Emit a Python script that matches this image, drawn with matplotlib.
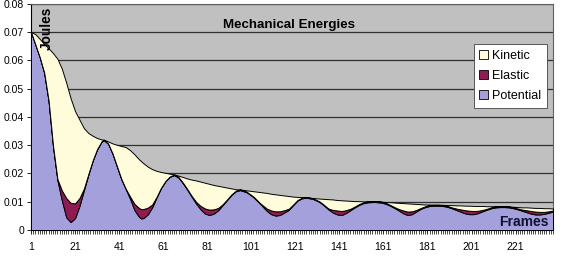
import matplotlib
matplotlib.use("Agg")
import matplotlib.pyplot as plt
from matplotlib.ticker import MultipleLocator, FixedLocator
from matplotlib.patches import Patch

plt.rcParams['font.family'] = ['Liberation Sans', 'DejaVu Sans']

frames = [1, 3, 5, 7, 9, 11, 13, 15, 17, 19, 21, 23, 25, 27, 29, 31, 33, 34,
          36, 38, 40, 42, 44, 46, 48, 50, 51, 52, 54, 56, 58, 60, 62, 64, 66,
          68, 70, 72, 74, 76, 78, 80, 82, 84, 86, 88, 90, 92, 94, 96,
          99, 102, 105, 108, 110, 112, 114, 116, 118, 120, 122, 124, 126,
          129, 132, 134, 136, 138, 140, 142, 144, 146, 148, 150, 152, 154, 157,
          160, 162, 164, 166, 168, 170, 172, 174, 176, 178, 180, 182, 184, 186,
          188, 190, 192, 194, 196, 198, 200, 202, 204, 206, 208, 210, 212, 214, 216,
          218, 220, 222, 224, 226, 228, 230, 232, 234, 236, 238]

potential = [.0700, .0655, .0610, .0555, .0455, .0295, .0176, .0105, .0045, .0028, .0042, .0085, .0140, .0195, .0245, .0285, .0312, .0318,
             .0305, .0270, .0225, .0180, .0145, .0110, .0070, .0047, .0041, .0042, .0055, .0080, .0115, .0148, .0172, .0188, .0194,
             .0185, .0165, .0142, .0117, .0093, .0073, .0058, .0053, .0058, .0070, .0088, .0106, .0124, .0137, .0141,
             .0133, .0116, .0093, .0068, .0056, .0051, .0053, .0062, .0071, .0088, .0104, .0112, .0114,
             .0110, .0099, .0087, .0073, .0062, .0055, .0053, .0060, .0070, .0080, .0089, .0095, .0098, .0099,
             .0097, .0093, .0086, .0078, .0069, .0059, .0053, .0056, .0066, .0075, .0081, .0085, .0086, .0086,
             .0085, .0082, .0077, .0071, .0065, .0059, .0056, .0056, .0060, .0066, .0072, .0077, .0080, .0081, .0081,
             .0080, .0077, .0073, .0068, .0063, .0058, .0055, .0055, .0057, .0061, .0065]

elastic = [0, 0, 0, .0001, .0002, .0003, .0004, .0035, .0068, .0068, .0052, .0028, .0006, .0002, .0001, .0001, .0001, .0001,
           .0001, .0001, .0001, .0001, .0001, .0008, .0022, .0031, .0033, .0032, .0024, .0010, .0002, .0001, .0001, .0001, .0002,
           .0002, .0002, .0002, .0003, .0006, .0012, .0018, .0019, .0015, .0008, .0003, .0002, .0002, .0002, .0002,
           .0002, .0002, .0002, .0008, .0013, .0015, .0013, .0008, .0004, .0002, .0002, .0002, .0002,
           .0002, .0002, .0002, .0003, .0009, .0014, .0014, .0010, .0005, .0003, .0003, .0003, .0003, .0003,
           .0003, .0003, .0003, .0003, .0005, .0010, .0012, .0010, .0005, .0003, .0003, .0003, .0003, .0003,
           .0003, .0003, .0003, .0005, .0008, .0011, .0012, .0011, .0008, .0005, .0003, .0003, .0003, .0003, .0003,
           .0003, .0003, .0003, .0004, .0007, .0009, .0010, .0009, .0007, .0005, .0004]

kinetic = [0, .0037, .0065, .0101, .0185, .0327, .0425, .0430, .0407, .0369, .0326, .0277, .0214, .0146, .0087, .0039, .0007, 0,
           .0007, .0035, .0075, .0116, .0147, .0164, .0175, .0172, .0169, .0162, .0145, .0125, .0092, .0056, .0029, .0010, 0,
           .0005, .0020, .0038, .0058, .0076, .0086, .0091, .0091, .0086, .0078, .0062, .0042, .0021, .0005, 0,
           .0005, .0019, .0039, .0055, .0059, .0060, .0058, .0052, .0045, .0028, .0011, .0002, 0,
           .0001, .0010, .0021, .0033, .0037, .0037, .0038, .0034, .0028, .0019, .0010, .0003, 0, 0,
           0, .0003, .0009, .0016, .0022, .0026, .0029, .0027, .0021, .0013, .0006, .0002, 0, 0,
           .0001, .0003, .0008, .0011, .0014, .0016, .0018, .0018, .0017, .0014, .0009, .0004, .0001, 0, 0,
           0, .0002, .0005, .0008, .0010, .0012, .0013, .0014, .0013, .0011, .0007]

series_names = ["Potential", "Elastic", "Kinetic"]
x_tick_labels = [1, 21, 41, 61, 81, 101, 121, 141, 161, 181, 201, 221]
y_ticks = [0, 0.01, 0.02, 0.03, 0.04, 0.05, 0.06, 0.07, 0.08]

colors = ['#A4A0DC', '#8E1B52', '#FFFCDC']

fig = plt.figure(figsize=(5.68, 2.60), dpi=100)
ax = fig.add_axes([31/568, 30/260, 522/568, 226.4/260])
ax.set_facecolor('#C0C0C0')

ax.stackplot(frames, potential, elastic, kinetic, colors=colors,
             edgecolor='black', linewidth=0.7, zorder=3)

ax.set_xlim(1, 238)
ax.set_ylim(0, 0.08)
ax.set_yticks(y_ticks)
ax.set_yticklabels(['0' if v == 0 else f'{v:.2f}' for v in y_ticks], fontsize=7.5)
ax.yaxis.grid(True, color='#303030', linewidth=0.9, zorder=1)
ax.set_axisbelow(True)

ax.xaxis.set_major_locator(FixedLocator(x_tick_labels))
ax.set_xticklabels([str(v) for v in x_tick_labels], fontsize=7.5)
ax.xaxis.set_minor_locator(MultipleLocator(1))
ax.tick_params(axis='x', which='major', length=3, width=0.6, pad=6)
ax.tick_params(axis='x', which='minor', length=3, width=0.5)
ax.tick_params(axis='y', length=3, width=0.6, pad=2)

for s in ['left', 'bottom']:
    ax.spines[s].set_color('black')
    ax.spines[s].set_linewidth(0.8)
for s in ['top', 'right']:
    ax.spines[s].set_color('#606060')
    ax.spines[s].set_linewidth(0.8)

ax.text(0.031, 0.985, 'Joules', transform=ax.transAxes, rotation=90,
        ha='center', va='top', fontsize=9.8, fontweight='bold', zorder=5)
ax.text(0.495, 0.905, 'Mechanical Energies', transform=ax.transAxes,
        ha='center', va='center', fontsize=9.6, fontweight='bold', zorder=5)
ax.text(0.944, 0.006, 'Frames', transform=ax.transAxes,
        ha='center', va='bottom', fontsize=10, fontweight='bold', zorder=5,
        color='#101030')

handles = [Patch(facecolor=colors[2], edgecolor='black', linewidth=0.6, label='Kinetic'),
           Patch(facecolor=colors[1], edgecolor='black', linewidth=0.6, label='Elastic'),
           Patch(facecolor=colors[0], edgecolor='black', linewidth=0.6, label='Potential')]
leg = ax.legend(handles=handles, loc='upper right', bbox_to_anchor=(0.988, 0.82),
                fontsize=9, frameon=True, fancybox=False, framealpha=1,
                edgecolor='#404040', handlelength=0.7, handleheight=0.7,
                handletextpad=0.3, borderpad=0.45, labelspacing=0.65,
                borderaxespad=0)
leg.get_frame().set_linewidth(0.6)
leg.set_zorder(6)

fig.savefig('out.png', dpi=100, facecolor='white')
